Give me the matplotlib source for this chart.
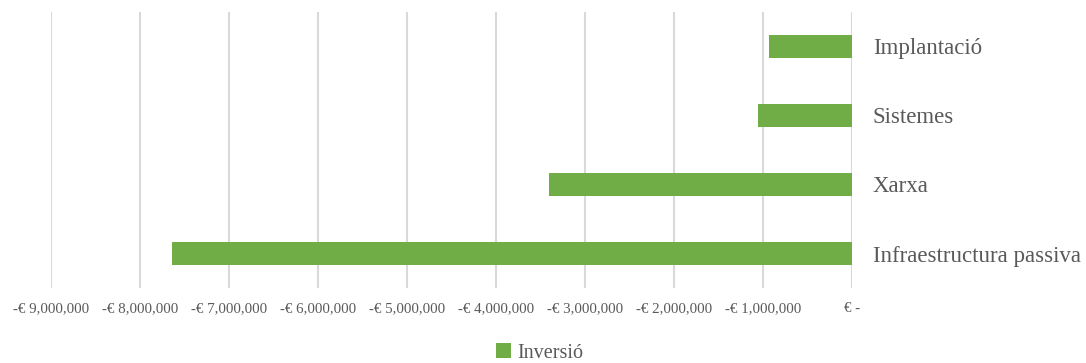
import matplotlib.pyplot as plt
from matplotlib.patches import Patch
from matplotlib.ticker import FuncFormatter, MultipleLocator

categories = ["Infraestructura passiva", "Xarxa", "Sistemes", "Implantació"]
inversio = [-7640000, -3400000, -1060000, -934000]

GREEN = "#70AD47"
TEXT = "#595959"
GRID = "#D9D9D9"

plt.rcParams['font.family'] = ['Liberation Serif', 'DejaVu Serif']


def euro(v, pos):
    if v == 0:
        return "€ -"
    sign = "-" if v < 0 else ""
    return "{}€ {:,.0f}".format(sign, abs(v))


fig = plt.figure(figsize=(10.86, 3.63), dpi=100)
ax = fig.add_axes([0.047, 0.2066, 0.7375, 0.7604])

ax.barh(range(len(categories)), inversio, height=0.33, color=GREEN, zorder=3)

ax.set_xlim(-9000000, 0)
ax.set_ylim(-0.5, len(categories) - 0.5)
ax.xaxis.set_major_locator(MultipleLocator(1000000))
ax.xaxis.set_major_formatter(FuncFormatter(euro))
ax.grid(axis='x', color=GRID, linewidth=1.5, zorder=0)

ax.set_yticks(range(len(categories)))
ax.set_yticklabels(categories)
ax.yaxis.tick_right()
ax.tick_params(axis='y', length=0, pad=15, labelsize=16.5, labelcolor=TEXT)
ax.tick_params(axis='x', length=0, pad=10, labelsize=10.8, labelcolor=TEXT)

for s in ax.spines.values():
    s.set_visible(False)

fig.legend(handles=[Patch(facecolor=GREEN, label="Inversió")],
           loc='center', bbox_to_anchor=(0.497, 0.028), frameon=False,
           fontsize=14.5, labelcolor=TEXT, handlelength=0.75, handleheight=0.75,
           handletextpad=0.3)

fig.savefig("out.png", dpi=100)
